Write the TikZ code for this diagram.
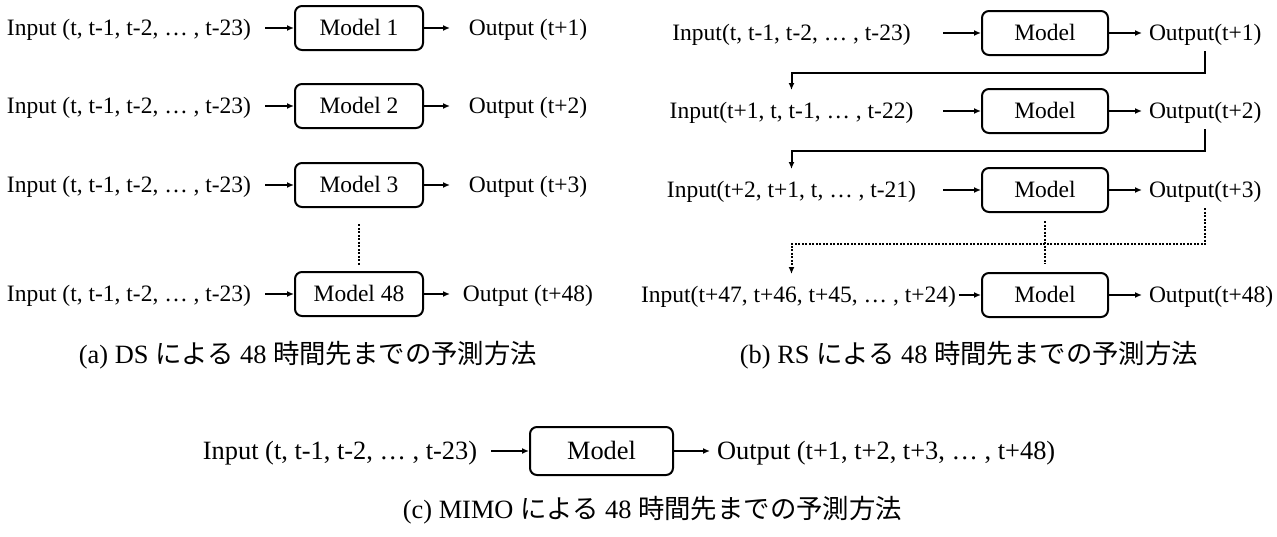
\documentclass[tikz,border=0pt]{standalone}
\usepackage{fontspec}
\setmainfont{Liberation Serif}
\newfontfamily\jpfont{Noto Sans CJK JP}
\usetikzlibrary{arrows.meta}

\begin{document}
\begin{tikzpicture}[x=1pt, y=-1pt, line width=2pt]
\tikzstyle{modelbox}=[rectangle, draw, rounded corners=7pt, minimum width=128pt, minimum height=44pt, inner sep=0pt, text height=15pt, text depth=0pt, font=\fontsize{23.5}{28}\selectfont]
\tikzstyle{txt}=[inner ysep=9.5pt, text height=15pt, text depth=0pt, font=\fontsize{23.5}{28}\selectfont]
\tikzstyle{ina}=[txt, inner xsep=13pt]
\tikzstyle{outa}=[txt, inner xsep=0pt, minimum width=154pt]
\tikzstyle{inb}=[txt, inner xsep=2pt, minimum width=301pt]
\tikzstyle{outb}=[txt, anchor=west, inner xsep=6pt]
\tikzstyle{bigtxt}=[inner sep=0pt, text height=17pt, text depth=0pt, font=\fontsize{26.4}{32}\selectfont]
\tikzstyle{drawstyle}=[-{Latex[length=7pt,width=6pt]}]
\tikzstyle{dotstyle}=[dash pattern=on 2pt off 1.5pt]

\useasboundingbox (0,0) rectangle (1277,536);

% (a) DS
\node[ina] (Ain1) at (129,28) {Input (t, t-1, t-2, … , t-23)};
\node[modelbox] (Am1) at (359,28) {Model 1};
\node[outa] (Aout1) at (528,28) {Output (t+1)};
\draw[drawstyle] (Ain1) -- (Am1);
\draw[drawstyle] (Am1) -- (Aout1);
\node[ina] (Ain2) at (129,106) {Input (t, t-1, t-2, … , t-23)};
\node[modelbox] (Am2) at (359,106) {Model 2};
\node[outa] (Aout2) at (528,106) {Output (t+2)};
\draw[drawstyle] (Ain2) -- (Am2);
\draw[drawstyle] (Am2) -- (Aout2);
\node[ina] (Ain3) at (129,185) {Input (t, t-1, t-2, … , t-23)};
\node[modelbox] (Am3) at (359,185) {Model 3};
\node[outa] (Aout3) at (528,185) {Output (t+3)};
\draw[drawstyle] (Ain3) -- (Am3);
\draw[drawstyle] (Am3) -- (Aout3);
\node[ina] (Ain4) at (129,294) {Input (t, t-1, t-2, … , t-23)};
\node[modelbox] (Am4) at (359,294) {Model 48};
\node[outa] (Aout4) at (528,294) {Output (t+48)};
\draw[drawstyle] (Ain4) -- (Am4);
\draw[drawstyle] (Am4) -- (Aout4);
\draw[dotstyle, shorten <=16pt, shorten >=5pt] (Am3.south) -- (Am4.north);
\node[bigtxt] (Acap) at (308,355) {(a) DS {\jpfont による} 48 {\jpfont 時間先までの予測方法}};

% (b) RS
\node[inb] (Bin1) at (791.5,33) {Input(t, t-1, t-2, … , t-23)};
\node[modelbox, minimum width=126pt] (Bm1) at (1045,33) {Model};
\node[outb] (Bout1) at (1142,33) {Output(t+1)};
\draw[drawstyle] (Bin1) -- (Bm1);
\draw[drawstyle] (Bm1) -- (Bout1);
\node[inb] (Bin2) at (791.5,111) {Input(t+1, t, t-1, … , t-22)};
\node[modelbox, minimum width=126pt] (Bm2) at (1045,111) {Model};
\node[outb] (Bout2) at (1142,111) {Output(t+2)};
\draw[drawstyle] (Bin2) -- (Bm2);
\draw[drawstyle] (Bm2) -- (Bout2);
\node[inb] (Bin3) at (791.5,190) {Input(t+2, t+1, t, … , t-21)};
\node[modelbox, minimum width=126pt] (Bm3) at (1045,190) {Model};
\node[outb] (Bout3) at (1142,190) {Output(t+3)};
\draw[drawstyle] (Bin3) -- (Bm3);
\draw[drawstyle] (Bm3) -- (Bout3);
\node[inb] (Bin4) at (798.5,295) {Input(t+47, t+46, t+45, … , t+24)};
\node[modelbox, minimum width=126pt] (Bm4) at (1045,295) {Model};
\node[outb] (Bout4) at (1142,295) {Output(t+48)};
\draw[drawstyle] (Bin4) -- (Bm4);
\draw[drawstyle] (Bm4) -- (Bout4);
\draw[drawstyle, shorten >=3pt] (Bout1.south) -- ++(0,22) -| (Bin2.north);
\draw[drawstyle, shorten >=3pt] (Bout2.south) -- ++(0,22) -| (Bin3.north);
\draw[drawstyle, dotstyle, shorten >=3pt] (Bout3.south) -- ++(0,36) -| (Bin3.north |- Bin4.north);
\draw[dotstyle, shorten <=8pt, shorten >=8pt] (Bm3.south) -- (Bm4.north);
\node[bigtxt] (Bcap) at (969,355) {(b) RS {\jpfont による} 48 {\jpfont 時間先までの予測方法}};

% (c) MIMO
\node[bigtxt, inner xsep=13pt] (Cin) at (340,451) {Input (t, t-1, t-2, … , t-23)};
\node[modelbox, minimum width=143pt, minimum height=48pt, text height=17pt, font=\fontsize{26.4}{32}\selectfont] (Cm) at (601.5,451) {Model};
\node[bigtxt, anchor=west, inner xsep=6pt] (Cout) at (710,451) {Output (t+1, t+2, t+3, … , t+48)};
\draw[drawstyle] (Cin) -- (Cm);
\draw[drawstyle] (Cm) -- (Cout);
\node[bigtxt] (Ccap) at (652.5,510) {(c) MIMO {\jpfont による} 48 {\jpfont 時間先までの予測方法}};
\end{tikzpicture}
\end{document}
